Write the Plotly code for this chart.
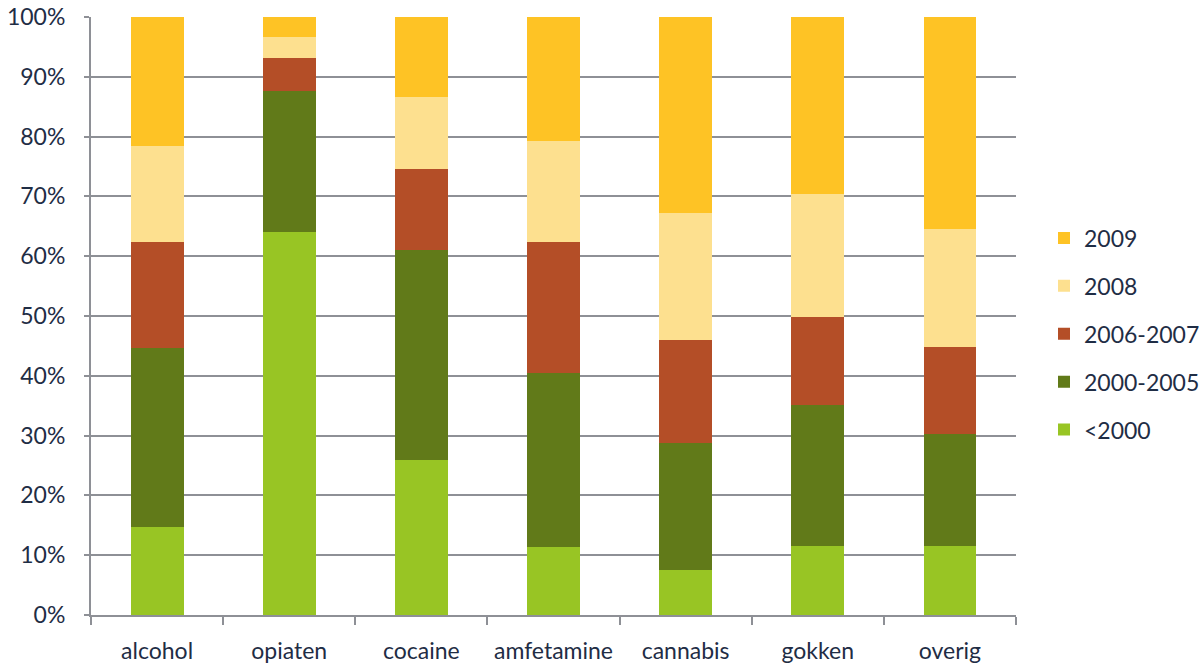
import plotly.graph_objects as go

categories = ["alcohol", "opiaten", "cocaine", "amfetamine", "cannabis", "gokken", "overig"]

# share per period (%), bottom to top
lt2000 = [14.7, 64.0, 26.0, 11.3, 7.5, 11.6, 11.6]
p2000_2005 = [30.0, 23.7, 35.1, 29.2, 21.3, 23.5, 18.7]
p2006_2007 = [17.7, 5.4, 13.4, 21.9, 17.2, 14.7, 14.6]
p2008 = [16.1, 3.6, 12.2, 16.9, 21.2, 20.6, 19.6]
p2009 = [21.5, 3.3, 13.3, 20.7, 32.8, 29.6, 35.5]

series = [
    ("<2000", lt2000, "#98C524"),
    ("2000-2005", p2000_2005, "#617A19"),
    ("2006-2007", p2006_2007, "#B44E27"),
    ("2008", p2008, "#FDE08F"),
    ("2009", p2009, "#FEC325"),
]

text_color = "#1F2D45"
grid_color = "#8E9096"
font_family = "Lato, 'Open Sans', sans-serif"
fsize = 23

fig = go.Figure()
for i, (name, vals, color) in enumerate(series):
    fig.add_trace(go.Bar(
        x=categories, y=vals, name=name, legendgroup=name,
        legendrank=len(series) - i,  # newest period listed first
        marker=dict(color=color, line=dict(width=0)),
    ))

fig.update_layout(
    barmode="stack",
    barnorm="percent",
    bargap=0.6,
    width=1204, height=666,
    margin=dict(l=91, r=188, t=17, b=51),
    paper_bgcolor="white", plot_bgcolor="white",
    font=dict(family=font_family, size=fsize, color=text_color),
    legend=dict(
        traceorder="grouped",
        tracegroupgap=15,
        xref="container", yref="container",
        x=1044 / 1204, xanchor="left",
        y=1 - 334 / 666, yanchor="middle",
        font=dict(size=fsize, color=text_color),
        itemwidth=30,
    ),
    xaxis=dict(
        showline=True, linecolor=grid_color, linewidth=2,
        ticks="outside", tickson="boundaries", ticklen=8, tickwidth=2, tickcolor=grid_color,
        tickfont=dict(size=fsize, color=text_color),
        ticklabelstandoff=14,
        automargin=False,
    ),
    yaxis=dict(
        range=[0, 100], dtick=10, ticksuffix="%",
        showgrid=True, gridcolor=grid_color, gridwidth=2,
        showline=True, linecolor=grid_color, linewidth=2,
        ticks="outside", ticklen=5, tickwidth=2, tickcolor=grid_color,
        tickfont=dict(size=fsize, color=text_color),
        ticklabelstandoff=14,
        zeroline=False,
        automargin=False,
    ),
)

fig.write_html("out.html")
